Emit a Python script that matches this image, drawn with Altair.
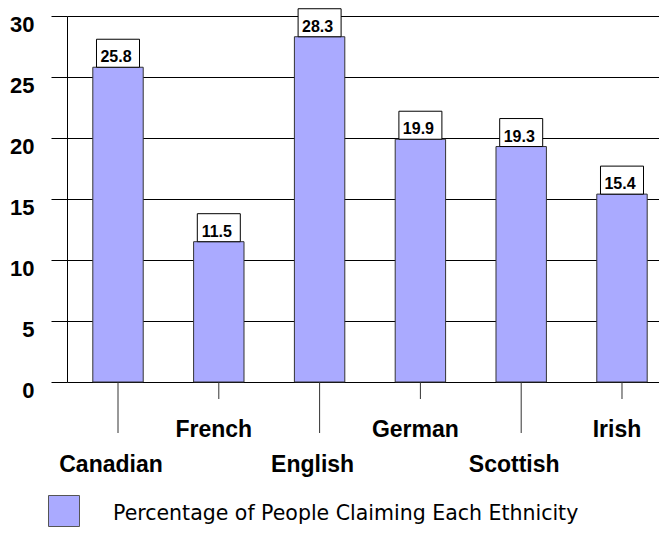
import altair as alt
import pandas as pd

categories = ["Canadian", "French", "English", "German", "Scottish", "Irish"]
values = [25.8, 11.5, 28.3, 19.9, 19.3, 15.4]
y_ticks = [0, 5, 10, 15, 20, 25, 30]
legend_label = ["Percentage of People Claiming Each Ethnicity"]

df = pd.DataFrame({
    "cat": categories,
    "value": values,
    "level": [i % 2 for i in range(len(categories))],
})
legend_df = pd.DataFrame({"label": legend_label})

FONT = "Liberation Sans"
BAR = "#AAAAFF"

x_enc = alt.X("cat:N", sort=categories,
              scale=alt.Scale(paddingInner=0.5, paddingOuter=0.256,
                              range=[0, 606]),
              axis=None)
y_enc = alt.Y("value:Q",
              scale=alt.Scale(domain=[0, 30], nice=False, zero=True),
              axis=alt.Axis(values=y_ticks, grid=True, gridColor="black",
                            gridWidth=1, gridOpacity=1,
                            domain=True, domainColor="black", domainWidth=1,
                            ticks=True, tickSize=16, tickColor="black",
                            tickWidth=1,
                            labelFont=FONT, labelFontSize=22,
                            labelFontWeight="bold", labelColor="black",
                            labelBaseline="top", labelOffset=-2,
                            labelPadding=17, title=None))

base = alt.Chart(df)

bars = base.mark_bar(color=BAR, stroke="#333333", strokeWidth=1).encode(
    x=x_enc, y=y_enc)

box_path = "M-1.536,-1L1.536,-1L1.536,1L-1.536,1Z"
boxes = base.mark_point(shape=box_path, size=784, filled=True, fill="white",
                        stroke="black", strokeWidth=1, opacity=1,
                        yOffset=-14).encode(x=x_enc, y=alt.Y("value:Q"))

vals = base.mark_text(dy=-5, dx=-2, baseline="alphabetic", align="center",
                      font=FONT, fontSize=16, fontWeight="bold",
                      color="black").encode(
    x=x_enc, y=alt.Y("value:Q"), text=alt.Text("value:Q", format=".1f"))

ticks_low = base.transform_filter("datum.level == 0").mark_rule(
    color="#333333", strokeWidth=1).encode(
    x=x_enc, y=alt.value(366), y2=alt.value(417))
ticks_up = base.transform_filter("datum.level == 1").mark_rule(
    color="#333333", strokeWidth=1).encode(
    x=x_enc, y=alt.value(366), y2=alt.value(383))

labels_low = base.transform_filter("datum.level == 0").mark_text(
    baseline="alphabetic", align="center", font=FONT, fontSize=23,
    fontWeight="bold", color="black", dx=-7).encode(
    x=x_enc, y=alt.value(456), text="cat:N")
labels_up = base.transform_filter("datum.level == 1").mark_text(
    baseline="alphabetic", align="center", font=FONT, fontSize=23,
    fontWeight="bold", color="black", dx=-5).encode(
    x=x_enc, y=alt.value(421), text="cat:N")

leg = alt.Chart(legend_df)
leg_sq = leg.mark_point(shape="square", size=961, filled=True, fill=BAR,
                        stroke="#555555", strokeWidth=1, opacity=1).encode(
    x=alt.value(-3), y=alt.value(495))
leg_txt = leg.mark_text(align="left", baseline="alphabetic", font="DejaVu Sans",
                        fontSize=20.5, color="black").encode(
    x=alt.value(46), y=alt.value(504), text="label:N")

chart = alt.layer(bars, boxes, vals, ticks_low, ticks_up, labels_low,
                  labels_up, leg_sq, leg_txt).properties(
    width=592, height=366,
    autosize=alt.AutoSizeParams(type="none"),
    padding={"left": 59, "top": 8, "right": 0, "bottom": 148},
).configure_view(stroke=None)

chart.save("out.html", embed_options={"renderer": "svg", "actions": False})
